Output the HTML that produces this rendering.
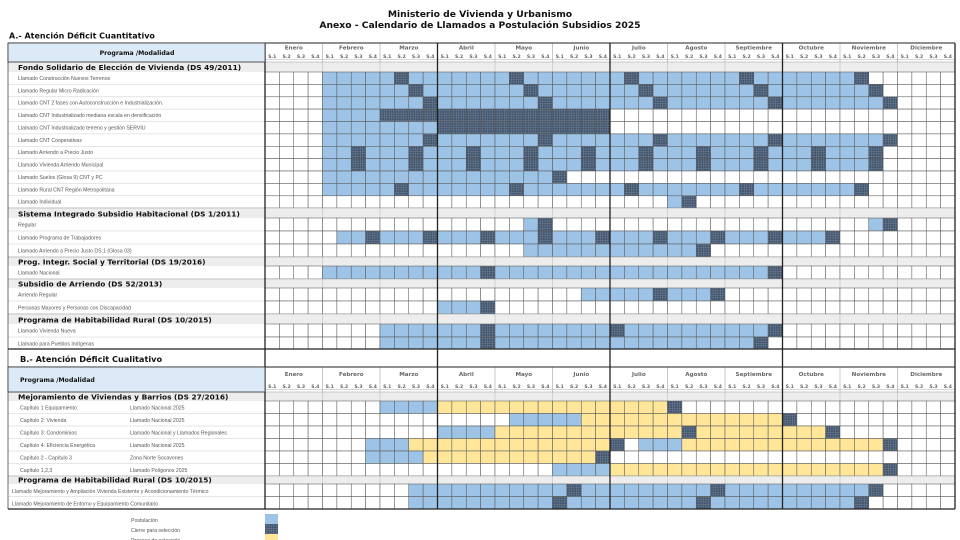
<!DOCTYPE html>
<html><head><meta charset="utf-8">
<style>
html,body{margin:0;padding:0;background:#fff;}
svg{display:block;}
.t{font-family:"DejaVu Sans","Liberation Sans",sans-serif;font-weight:bold;fill:#111;}
.s{font-family:"DejaVu Sans","Liberation Sans",sans-serif;font-weight:bold;fill:#111;font-size:7.4px;}
.l{font-family:"Liberation Sans",sans-serif;fill:#555;font-size:5.2px;}
.m{font-family:"DejaVu Sans","Liberation Sans",sans-serif;font-weight:bold;fill:#666;font-size:5.6px;}
.w{font-family:"DejaVu Sans","Liberation Sans",sans-serif;font-weight:bold;fill:#666;font-size:4.6px;}
</style></head>
<body>
<svg id="sv" width="960" height="540" viewBox="0 0 960 540" xmlns="http://www.w3.org/2000/svg">
<defs>
<pattern id="hp" width="2.4" height="2.4" patternUnits="userSpaceOnUse">
<rect width="2.4" height="2.4" fill="#3e5168"/>
<rect width="2.4" height="0.6" fill="#6a7c92"/>
<rect width="0.6" height="2.4" fill="#6a7c92"/>
</pattern>
</defs>
<text class="t" x="480" y="17" text-anchor="middle" font-size="9.2">Ministerio de Vivienda y Urbanismo</text>
<text class="t" x="480" y="28" text-anchor="middle" font-size="9.2">Anexo - Calendario de Llamados a Postulación Subsidios 2025</text>
<text class="t" x="9" y="38.5" font-size="8">A.- Atención Déficit Cuantitativo</text>
<g id="cells"></g>
<g id="labels">
<rect x="8" y="43" width="257" height="19" fill="#dce9f7" stroke="#333" stroke-width="0.8"/>
<text class="t" x="137" y="55" text-anchor="middle" font-size="6.2">Programa /Modalidad</text>
<text class="s" x="18" y="70">Fondo Solidario de Elección de Vivienda (DS 49/2011)</text>
<text class="l" x="18" y="80">Llamado Construcción Nuevos Terrenos</text>
<text class="l" x="18" y="92.3">Llamado Regular Micro Radicación</text>
<text class="l" x="18" y="104.7">Llamado CNT 2 fases con Autoconstrucción e Industrialización.</text>
<text class="l" x="18" y="117">Llamado CNT Industrializado mediana escala en densificación</text>
<text class="l" x="18" y="129.4">Llamado CNT Industrializado terreno y gestión SERVIU</text>
<text class="l" x="18" y="141.8">Llamado CNT Cooperativas</text>
<text class="l" x="18" y="154.2">Llamado Arriendo a Precio Justo</text>
<text class="l" x="18" y="166.5">Llamado Vivienda Arriendo Municipal</text>
<text class="l" x="18" y="178.9">Llamado Suelos  (Glosa 9) CNT y PC</text>
<text class="l" x="18" y="191.3">Llamado  Rural CNT Región Metropolitana</text>
<text class="l" x="18" y="203.6">Llamado Individual</text>
<text class="s" x="18" y="216.5">Sistema Integrado Subsidio Habitacional (DS 1/2011)</text>
<text class="l" x="18" y="226.5">Regular</text>
<text class="l" x="18" y="239.5">Llamado Programa de Trabajadores</text>
<text class="l" x="18" y="252.5">Llamado Arriendo a Precio Justo DS.1 (Glosa 03)</text>
<text class="s" x="18" y="264.5">Prog. Integr. Social y Territorial  (DS 19/2016)</text>
<text class="l" x="18" y="274.5">Llamado Nacional</text>
<text class="s" x="18" y="286.5">Subsidio de Arriendo (DS 52/2013)</text>
<text class="l" x="18" y="296.5">Arriendo Regular</text>
<text class="l" x="18" y="309.5">Personas Mayores y Personas con Discapacidad</text>
<text class="s" x="18" y="322.5">Programa de Habitabilidad Rural (DS 10/2015)</text>
<text class="l" x="18" y="332.5">Llamado Vivienda Nueva</text>
<text class="l" x="18" y="345.3">Llamado para Pueblos Indígenas</text>

<text class="t" x="20" y="362" font-size="8.2">B.- Atención Déficit Cualitativo</text>
<rect x="8" y="367" width="257" height="25" fill="#dce9f7" stroke="#333" stroke-width="0.8"/>
<text class="t" x="20" y="382" font-size="6.2">Programa /Modalidad</text>
<text class="s" x="18" y="399.5">Mejoramiento de Viviendas y Barrios (DS 27/2016)</text>
<text class="l" x="20" y="409.5">Capítulo 1 Equipamiento</text><text class="l" x="130" y="409.5">Llamado Nacional 2025</text>
<text class="l" x="20" y="422">Capítulo 2: Vivienda</text><text class="l" x="130" y="422">Llamado Nacional 2025</text>
<text class="l" x="20" y="434.5">Capítulo 3: Condominios</text><text class="l" x="130" y="434.5">Llamado Nacional y Llamados Regionales</text>
<text class="l" x="20" y="447">Capítulo 4: Eficiencia Energética</text><text class="l" x="130" y="447">Llamado Nacional 2025</text>
<text class="l" x="20" y="459.5">Capítulo 2 - Capítulo 3</text><text class="l" x="130" y="459.5">Zona Norte Socavones</text>
<text class="l" x="20" y="472">Capítulo 1,2,3</text><text class="l" x="130" y="472">Llamado Polígonos 2025</text>
<text class="s" x="18" y="482.5">Programa de Habitabilidad Rural (DS 10/2015)</text>
<text class="l" x="12" y="493">Llamado Mejoramiento y Ampliación Vivienda Existente y Acondicionamiento Térmico</text>
<text class="l" x="12" y="505.5">Llamado Mejoramiento de Entorno y Equipamiento Comunitario</text>

<text class="l" x="131" y="522">Postulación</text>
<text class="l" x="131" y="532">Cierre para selección</text>
<text class="l" x="131" y="542">Proceso de selección</text>
<rect x="265" y="514" width="13" height="10" fill="#9dc3e6"/>
<rect x="265" y="524" width="13" height="10" fill="url(#hp)"/>
<rect x="265" y="534" width="13" height="6" fill="#ffe699"/>
</g>
<g id="hdrA">
<text class="m" x="293.8" y="49.5" text-anchor="middle">Enero</text>
<text class="m" x="351.3" y="49.5" text-anchor="middle">Febrero</text>
<text class="m" x="408.8" y="49.5" text-anchor="middle">Marzo</text>
<text class="m" x="466.3" y="49.5" text-anchor="middle">Abril</text>
<text class="m" x="523.8" y="49.5" text-anchor="middle">Mayo</text>
<text class="m" x="581.3" y="49.5" text-anchor="middle">Junio</text>
<text class="m" x="638.8" y="49.5" text-anchor="middle">Julio</text>
<text class="m" x="696.3" y="49.5" text-anchor="middle">Agosto</text>
<text class="m" x="753.8" y="49.5" text-anchor="middle">Septiembre</text>
<text class="m" x="811.3" y="49.5" text-anchor="middle">Octubre</text>
<text class="m" x="868.8" y="49.5" text-anchor="middle">Noviembre</text>
<text class="m" x="926.3" y="49.5" text-anchor="middle">Diciembre</text>
</g>
<g id="hdrB">
<text class="m" x="293.8" y="376" text-anchor="middle">Enero</text>
<text class="m" x="351.3" y="376" text-anchor="middle">Febrero</text>
<text class="m" x="408.8" y="376" text-anchor="middle">Marzo</text>
<text class="m" x="466.3" y="376" text-anchor="middle">Abril</text>
<text class="m" x="523.8" y="376" text-anchor="middle">Mayo</text>
<text class="m" x="581.3" y="376" text-anchor="middle">Junio</text>
<text class="m" x="638.8" y="376" text-anchor="middle">Julio</text>
<text class="m" x="696.3" y="376" text-anchor="middle">Agosto</text>
<text class="m" x="753.8" y="376" text-anchor="middle">Septiembre</text>
<text class="m" x="811.3" y="376" text-anchor="middle">Octubre</text>
<text class="m" x="868.8" y="376" text-anchor="middle">Noviembre</text>
<text class="m" x="926.3" y="376" text-anchor="middle">Diciembre</text>
</g>
<g id="wk"></g>
</svg>
<script>
(function(){
var NS="http://www.w3.org/2000/svg";
var g=document.getElementById("cells"), wk=document.getElementById("wk");
var X0=265,CW=14.375;
function el(p,n,a){var e=document.createElementNS(NS,n);for(var k in a)e.setAttribute(k,a[k]);p.appendChild(e);return e;}
function mk(ops){var a=[];for(var i=0;i<48;i++)a.push('.');ops.forEach(function(o){
 if(o[0]=='D'){o[1].forEach(function(c){a[c]='d';});}
 else for(var c=o[1];c<=o[2];c++)a[c]=o[0];});return a;}
function st(a,b,s){var r=[];for(var c=a;c<=b;c+=s)r.push(c);return r;}
var rows=[
 [43,62,'H'],
 [62,72,'S'],
 [72,84.4,'R',mk([['b',4,41],['D',[9,17,25,33,41]]])],
 [84.4,96.8,'R',mk([['b',4,42],['D',[10,18,26,34,42]]])],
 [96.8,109.1,'R',mk([['b',4,43],['D',[11,19,27,35,43]]])],
 [109.1,121.5,'R',mk([['b',4,7],['d',8,23]])],
 [121.5,133.9,'R',mk([['b',4,11],['d',12,23]])],
 [133.9,146.3,'R',mk([['b',4,43],['D',[11,19,27,35,43]]])],
 [146.3,158.6,'R',mk([['b',4,42],['D',st(6,42,4)]])],
 [158.6,171,'R',mk([['b',4,42],['D',st(6,42,4)]])],
 [171,183.4,'R',mk([['b',4,19],['D',[20]]])],
 [183.4,195.8,'R',mk([['b',4,41],['D',[9,17,25,33,41]]])],
 [195.8,208,'R',mk([['b',28,28],['D',[29]]])],
 [208,218,'S'],
 [218,231,'R',mk([['b',18,18],['D',[19]],['b',42,42],['D',[43]]])],
 [231,244,'R',mk([['b',5,39],['D',st(7,39,4)]])],
 [244,257,'R',mk([['b',18,29],['D',[30]]])],
 [257,266,'S'],
 [266,279,'R',mk([['b',4,35],['D',[15,35]]])],
 [279,288,'S'],
 [288,301,'R',mk([['b',22,31],['D',[27,31]]])],
 [301,314,'R',mk([['b',12,15],['D',[15]]])],
 [314,324,'S'],
 [324,337,'R',mk([['b',8,35],['D',[15,24,35]]])],
 [337,349,'R',mk([['b',8,34],['D',[15,34]]])],
 [349,367,'E'],
 [367,392,'H'],
 [392,401,'S'],
 [401,413.5,'R',mk([['b',8,11],['y',12,27],['D',[28]]])],
 [413.5,426,'R',mk([['b',17,21],['y',22,35],['D',[36]]])],
 [426,438.5,'R',mk([['b',12,15],['y',16,38],['D',[29,39]]])],
 [438.5,451,'R',mk([['b',7,9],['y',10,23],['D',[24]],['b',26,28],['y',29,42],['D',[43]]])],
 [451,463.5,'R',mk([['b',7,10],['y',11,22],['D',[23]]])],
 [463.5,476,'R',mk([['b',20,23],['y',24,42],['D',[43]]])],
 [476,484,'S'],
 [484,496.5,'R',mk([['b',10,42],['D',[21,31,42]]])],
 [496.5,509,'R',mk([['b',10,41],['D',[20,30,41]]])]
];
var col={'b':'#9dc3e6','d':'url(#hp)','y':'#ffe699','.':'#fff'};
rows.forEach(function(r){
 var y0=r[0],y1=r[1],h=y1-y0,t=r[2];
 if(t=='S'){el(g,'rect',{x:8,y:y0,width:947,height:h,fill:'#ededed'});
   for(var m=0;m<=12;m++){var x=X0+m*4*CW;el(g,'line',{x1:x,y1:y0,x2:x,y2:y1,stroke:'#c8c8c8','stroke-width':0.8});}
   el(g,'line',{x1:8,y1:y0,x2:955,y2:y0,stroke:'#999','stroke-width':0.5});
 } else if(t=='R'){
   el(g,'line',{x1:8,y1:y1,x2:265,y2:y1,stroke:'#ccc','stroke-width':0.5});
   for(var c=0;c<48;c++){var x=X0+c*CW;
     el(g,'rect',{x:x,y:y0,width:CW,height:h,fill:col[r[3][c]],stroke:'#5a5a5a','stroke-width':0.55});}
 } else if(t=='H'){
   for(var m=0;m<12;m++){var x=X0+m*4*CW;
     el(g,'line',{x1:x,y1:y0,x2:x,y2:y1,stroke:'#bbb','stroke-width':0.8});
     for(var k=0;k<4;k++){var tx=el(wk,'text',{'class':'w',x:x+(k+0.5)*CW,y:y1-4,'text-anchor':'middle'});tx.textContent='S.'+(k+1);}
   }
   el(g,'line',{x1:X0,y1:y1-2.5,x2:955,y2:y1-2.5,stroke:'#999','stroke-width':0.4});
   el(g,'line',{x1:8,y1:y0,x2:955,y2:y0,stroke:'#333','stroke-width':1});
 }
});
[[43,349],[349,509]].forEach(function(p){
 [0,12,24,36,48].forEach(function(m){var x=X0+m*CW;el(g,'line',{x1:x,y1:p[0],x2:x,y2:p[1],stroke:'#222','stroke-width':1.3});});
 el(g,'line',{x1:8,y1:p[0],x2:8,y2:p[1],stroke:'#444','stroke-width':0.8});
 el(g,'line',{x1:8,y1:p[1],x2:955,y2:p[1],stroke:'#222','stroke-width':1.2});
 el(g,'line',{x1:8,y1:p[0],x2:955,y2:p[0],stroke:'#222','stroke-width':1});
});
el(g,'line',{x1:8,y1:367,x2:955,y2:367,stroke:'#222','stroke-width':1});
})();
</script>
</body></html>
